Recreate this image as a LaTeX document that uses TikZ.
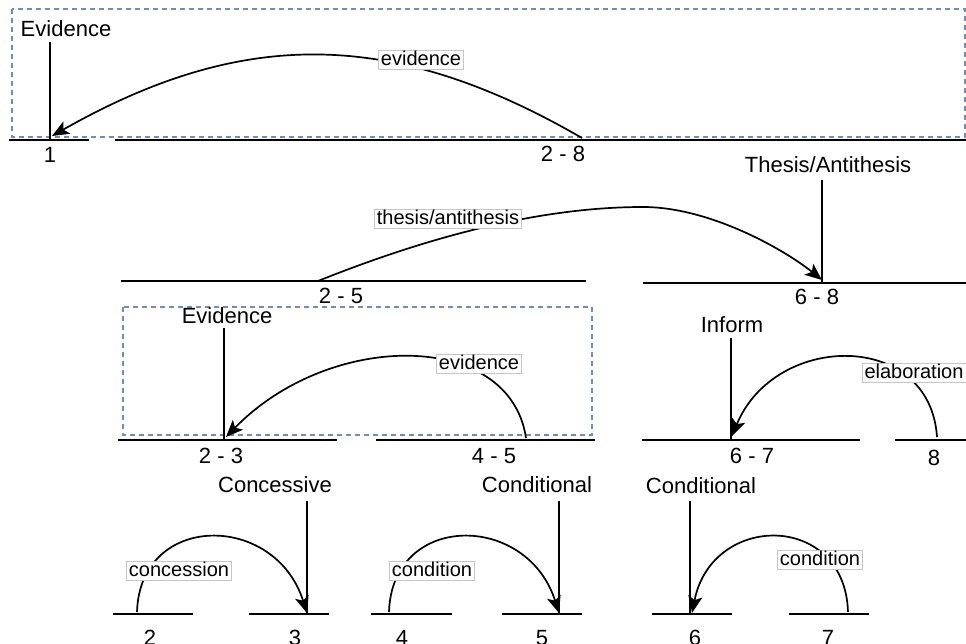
\documentclass[tikz,border=0pt]{standalone}
\usepackage{fontspec}
\setmainfont{Liberation Sans}
\usetikzlibrary{arrows.meta}
\definecolor{dashblue}{HTML}{6C8EBF}
\begin{document}
\begin{tikzpicture}[x=1pt,y=-1pt,
  seg/.style={line width=2pt, black},
  stem/.style={line width=1.7pt, black},
  rel/.style={line width=1.7pt, black, -{Stealth[length=17pt,width=14pt,inset=4pt]}},
  lab/.style={anchor=base, inner sep=0pt, font=\fontsize{22}{24}\selectfont},
  elab/.style={fill=white, draw=gray!45, line width=0.6pt, inner xsep=2.5pt, inner ysep=0pt,
    text height=15pt, text depth=4.5pt, font=\fontsize{20}{22}\selectfont},
  grp/.style={draw=dashblue, line width=1.5pt, dash pattern=on 5pt off 4pt}]

\useasboundingbox (0,0) rectangle (966,644);

% ---------- group boxes ----------
\draw[grp] (12,9) rectangle (965,137);
\draw[grp] (123,307) rectangle (592,435);

% ---------- segments ----------
\coordinate (s1a) at (9,140);    \coordinate (s1b) at (89,140);
\coordinate (s28a) at (115,140); \coordinate (s28b) at (966,140);
\coordinate (s25a) at (121,281); \coordinate (s25b) at (586,281);
\coordinate (s68a) at (643,283); \coordinate (s68b) at (966,283);
\coordinate (s23a) at (118,440); \coordinate (s23b) at (337,440);
\coordinate (s45a) at (376,440); \coordinate (s45b) at (595,440);
\coordinate (s67a) at (642,440); \coordinate (s67b) at (860,440);
\coordinate (s8a) at (895,440);  \coordinate (s8b) at (966,440);
\coordinate (s2a) at (113,614);  \coordinate (s2b) at (193,614);
\coordinate (s3a) at (249,614);  \coordinate (s3b) at (329,614);
\coordinate (s4a) at (371,614);  \coordinate (s4b) at (452,614);
\coordinate (s5a) at (502,614);  \coordinate (s5b) at (582,614);
\coordinate (s6a) at (652,614);  \coordinate (s6b) at (732,614);
\coordinate (s7a) at (789,614);  \coordinate (s7b) at (869,614);
\foreach \s in {s1,s28,s25,s68,s23,s45,s67,s8,s2,s3,s4,s5,s6,s7}
  \draw[seg] (\s a) -- (\s b);

% ---------- segment labels ----------
\node[lab] (l1)  at (50,163)  {1};
\node[lab] (l28) at (563,162) {2 - 8};
\node[lab] (l25) at (341,303) {2 - 5};
\node[lab] (l68) at (817,305) {6 - 8};
\node[lab] (l23) at (221,463) {2 - 3};
\node[lab] (l45) at (494,463) {4 - 5};
\node[lab] (l67) at (752,463) {6 - 7};
\node[lab] (l8)  at (934,465) {8};
\node[lab] (l2)  at (150,645) {2};
\node[lab] (l3)  at (295,645) {3};
\node[lab] (l4)  at (402,645) {4};
\node[lab] (l5)  at (542,645) {5};
\node[lab] (l6)  at (695,645) {6};
\node[lab] (l7)  at (828,645) {7};

% ---------- nucleus labels and stems ----------
\node[lab] (nEv1) at (66,37)   {Evidence};
\node[lab] (nTA)  at (828,173) {Thesis/Antithesis};
\node[lab] (nEv2) at (227,323) {Evidence};
\node[lab] (nInf) at (732,332) {Inform};
\node[lab] (nCon) at (275,492) {Concessive};
\node[lab] (nCd1) at (537,492) {Conditional};
\node[lab] (nCd2) at (701,493) {Conditional};

\coordinate (t1a) at (50,42);   \coordinate (t1b) at (50,139);
\coordinate (t2a) at (822,180); \coordinate (t2b) at (822,282);
\coordinate (t3a) at (224,328); \coordinate (t3b) at (224,439);
\coordinate (t4a) at (731,338); \coordinate (t4b) at (731,439);
\coordinate (t5a) at (307,501); \coordinate (t5b) at (307,613);
\coordinate (t6a) at (559,501); \coordinate (t6b) at (559,613);
\coordinate (t7a) at (690,501); \coordinate (t7b) at (690,613);
\foreach \t in {t1,t2,t3,t4,t5,t6,t7}
  \draw[stem] (\t a) -- (\t b);

% ---------- relation arcs ----------
\coordinate (a1s) at (582,138); \coordinate (a1e) at (52,136);
\draw[rel] (a1s) .. controls (392,28) and (242,28) .. (a1e);

\coordinate (a2s) at (318,281); \coordinate (a2m) at (643,207); \coordinate (a2e) at (822,280);
\draw[rel] (a2s) .. controls (418,241) and (533,207) .. (a2m)
                 .. controls (710,207) and (785,250) .. (a2e);

\coordinate (a3s) at (526,438); \coordinate (a3e) at (226,437);
\draw[rel] (a3s) .. controls (510,330) and (330,330) .. (a3e);

\coordinate (a4s) at (937,437); \coordinate (a4e) at (732,436);
\draw[rel] (a4s) .. controls (930,330) and (775,332) .. (a4e);

\coordinate (a5s) at (137,612); \coordinate (a5e) at (307,613);
\draw[rel] (a5s) .. controls (140,512) and (275,512) .. (a5e);

\coordinate (a6s) at (389,612); \coordinate (a6e) at (559,613);
\draw[rel] (a6s) .. controls (392,512) and (527,512) .. (a6e);

\coordinate (a7s) at (848,612); \coordinate (a7e) at (692,613);
\draw[rel] (a7s) .. controls (845,512) and (712,512) .. (a7e);

% ---------- relation labels ----------
\node[elab] (r1) at (421,60)  {evidence};
\node[elab] (r2) at (448,219) {thesis/antithesis};
\node[elab] (r3) at (479,364) {evidence};
\node[elab] (r4) at (914,373) {elaboration};
\node[elab] (r5) at (179,571) {concession};
\node[elab] (r6) at (432,571) {condition};
\node[elab] (r7) at (820,560) {condition};
\end{tikzpicture}
\end{document}
